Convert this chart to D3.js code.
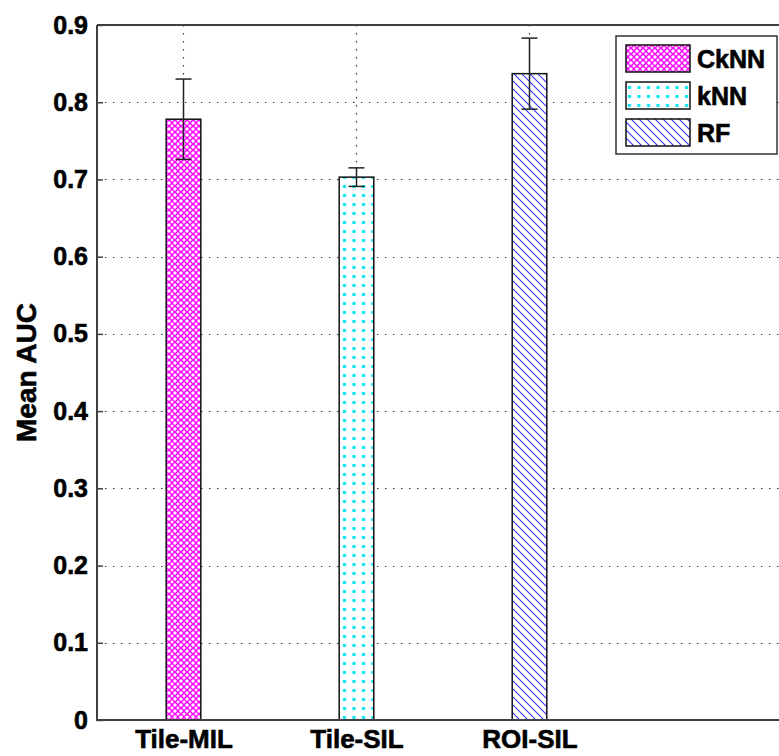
<!DOCTYPE html>
<html>
<head>
<meta charset="utf-8">
<script src="https://cdn.jsdelivr.net/npm/d3@7"></script>
<style>
  html, body { margin: 0; padding: 0; background: #fff; }
  svg { display: block; }
  text { font-family: Arial, "Liberation Sans", sans-serif; font-weight: bold; stroke: #000; stroke-width: 0.6px; }
</style>
</head>
<body>
<svg id="chart" width="779" height="756"></svg>
<script>
// Mean AUC per method, with error bar half-widths
const categories = ["Tile-MIL", "Tile-SIL", "ROI-SIL"];
const seriesNames = ["CkNN", "kNN", "RF"];
const meanAUC = [0.778, 0.703, 0.837];
const errAUC = [0.052, 0.012, 0.046];
const yTicks = [0, 0.1, 0.2, 0.3, 0.4, 0.5, 0.6, 0.7, 0.8, 0.9];

const svg = d3.select("#chart");
const margin = { left: 97, top: 25, bottom: 720 };
const plotRight = 789;

const x = d3.scaleLinear().domain([0.5, 4.5]).range([margin.left, plotRight]);
const y = d3.scaleLinear().domain([0, 0.9]).range([margin.bottom, margin.top]);
const barW = 0.2;
const axisColor = "#404040";

// Fill patterns for each series
const defs = svg.append("defs");
// CkNN: magenta ring lattice
const p1 = defs.append("pattern").attr("id", "pat-cknn").attr("patternUnits", "userSpaceOnUse")
  .attr("width", 6).attr("height", 6).attr("x", 166).attr("y", 0);
p1.append("rect").attr("width", 6).attr("height", 6).attr("fill", "#fff");
p1.append("circle").attr("cx", 3).attr("cy", 3).attr("r", 2.4).attr("fill", "none")
  .attr("stroke", "#ff00ff").attr("stroke-width", 1.3);
// kNN: cyan dots
const p2 = defs.append("pattern").attr("id", "pat-knn").attr("patternUnits", "userSpaceOnUse")
  .attr("width", 9.5).attr("height", 9).attr("x", 340).attr("y", 2);
p2.append("rect").attr("width", 9.5).attr("height", 9).attr("fill", "#fff");
p2.append("rect").attr("x", 3).attr("y", 3).attr("width", 3).attr("height", 3).attr("fill", "#00e5f0");
// RF: blue diagonal hatch
const p3 = defs.append("pattern").attr("id", "pat-rf").attr("patternUnits", "userSpaceOnUse")
  .attr("width", 8).attr("height", 8);
p3.append("rect").attr("width", 8).attr("height", 8).attr("fill", "#fff");
p3.append("path").attr("d", "M-2,-2 L10,10 M-10,-2 L2,10 M6,-2 L18,10")
  .attr("stroke", "#3333ff").attr("stroke-width", 1.1);
const fills = ["url(#pat-cknn)", "url(#pat-knn)", "url(#pat-rf)"];

// Dotted grid lines
const grid = svg.append("g");
grid.selectAll("line.h").data(yTicks.filter(d => d > 0 && d < 0.9)).join("line")
  .attr("x1", margin.left).attr("x2", plotRight)
  .attr("y1", d => Math.round(y(d)) + 0.5).attr("y2", d => Math.round(y(d)) + 0.5)
  .attr("stroke", "#333").attr("stroke-width", 1.2).attr("stroke-dasharray", "1.5,6.5");
grid.selectAll("line.v").data(categories).join("line")
  .attr("x1", (d, i) => x(i + 1)).attr("x2", (d, i) => x(i + 1))
  .attr("y1", margin.top).attr("y2", margin.bottom)
  .attr("stroke", "#333").attr("stroke-width", 1.2).attr("stroke-dasharray", "1.5,6.5");

// Bars
svg.append("g").selectAll("rect").data(meanAUC).join("rect")
  .attr("x", (d, i) => x(i + 1 - barW / 2))
  .attr("width", (d, i) => x(i + 1 + barW / 2) - x(i + 1 - barW / 2))
  .attr("y", d => y(d))
  .attr("height", d => y(0) - y(d))
  .attr("fill", (d, i) => fills[i])
  .attr("stroke", "#111").attr("stroke-width", 1.5);

// Error bars
const eb = svg.append("g").attr("stroke", "#222").attr("stroke-width", 1.5);
meanAUC.forEach((m, i) => {
  const cx = x(i + 1);
  eb.append("line").attr("x1", cx).attr("x2", cx).attr("y1", y(m - errAUC[i])).attr("y2", y(m + errAUC[i]));
  eb.append("line").attr("x1", cx - 8).attr("x2", cx + 8).attr("y1", y(m + errAUC[i])).attr("y2", y(m + errAUC[i]));
  eb.append("line").attr("x1", cx - 8).attr("x2", cx + 8).attr("y1", y(m - errAUC[i])).attr("y2", y(m - errAUC[i]));
});

// Axes frame (left, bottom, top)
const yAxis = d3.axisLeft(y).tickValues(yTicks).tickSize(-6).tickPadding(9)
  .tickFormat(d => d === 0 ? "0" : d3.format(".1f")(d));
const yg = svg.append("g").attr("transform", `translate(${margin.left},0)`).call(yAxis);
yg.select(".domain").remove();
yg.selectAll(".tick line").attr("stroke", axisColor).attr("stroke-width", 1.5);
yg.selectAll(".tick text").attr("font-size", 25).attr("fill", "#000")
  .attr("font-family", "Arial, 'Liberation Sans', sans-serif").attr("font-weight", "bold");

const xAxis = d3.axisBottom(x).tickValues([1, 2, 3]).tickSize(0).tickPadding(10)
  .tickFormat((d, i) => categories[i]);
const xg = svg.append("g").attr("transform", `translate(0,${margin.bottom})`).call(xAxis);
xg.select(".domain").remove();
xg.selectAll(".tick text").attr("font-size", 26).attr("fill", "#000")
  .attr("font-family", "Arial, 'Liberation Sans', sans-serif").attr("font-weight", "bold");

svg.append("line").attr("x1", margin.left).attr("x2", margin.left).attr("y1", margin.top).attr("y2", margin.bottom + 1)
  .attr("stroke", axisColor).attr("stroke-width", 2);
svg.append("line").attr("x1", margin.left).attr("x2", plotRight).attr("y1", margin.bottom).attr("y2", margin.bottom)
  .attr("stroke", axisColor).attr("stroke-width", 2);
svg.append("line").attr("x1", margin.left).attr("x2", plotRight).attr("y1", margin.top).attr("y2", margin.top)
  .attr("stroke", axisColor).attr("stroke-width", 2);

// Y axis title
svg.append("text").attr("transform", `translate(36,${(margin.top + margin.bottom) / 2}) rotate(-90)`)
  .attr("text-anchor", "middle").attr("font-size", 28).attr("fill", "#000").text("Mean AUC");

// Legend
const lg = svg.append("g");
lg.append("rect").attr("x", 616).attr("y", 36).attr("width", 161).attr("height", 118)
  .attr("fill", "#fff").attr("stroke", "#333").attr("stroke-width", 1.5);
seriesNames.forEach((s, i) => {
  const yy = 45 + i * 37;
  lg.append("rect").attr("x", 626).attr("y", yy).attr("width", 64).attr("height", 27)
    .attr("fill", fills[i]).attr("stroke", "#111").attr("stroke-width", 1.5);
  lg.append("text").attr("x", 697).attr("y", yy + 23).attr("font-size", 25).attr("fill", "#000").text(s);
});
</script>
</body>
</html>
